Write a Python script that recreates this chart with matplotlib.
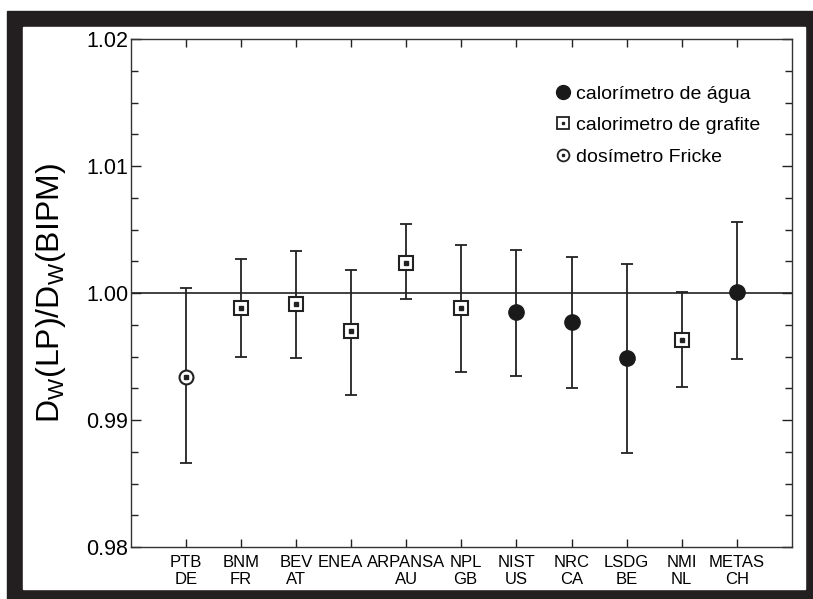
import matplotlib
matplotlib.use('Agg')
import matplotlib.pyplot as plt
from matplotlib.lines import Line2D
from matplotlib.patches import Rectangle
from matplotlib.ticker import MultipleLocator
from matplotlib.transforms import ScaledTranslation

plt.rcParams['font.family'] = ['Liberation Sans', 'DejaVu Sans']
plt.rcParams['mathtext.fontset'] = 'custom'
plt.rcParams['mathtext.rm'] = 'Liberation Sans'
plt.rcParams['mathtext.it'] = 'Liberation Sans'

# laboratories and results
labs = ['PTB\nDE', 'BNM\nFR', 'BEV\nAT', 'ENEA', 'ARPANSA\nAU', 'NPL\nGB',
        'NIST\nUS', 'NRC\nCA', 'LSDG\nBE', 'NMI\nNL', 'METAS\nCH']
ratio = [0.9934, 0.9988, 0.9991, 0.9970, 1.0024, 0.9988, 0.9985, 0.9977, 0.9949, 0.9963, 1.0001]
upper = [1.0004, 1.0027, 1.0033, 1.0018, 1.0054, 1.0038, 1.0034, 1.0028, 1.0023, 1.0001, 1.0056]
lower = [0.9866, 0.9950, 0.9949, 0.9920, 0.9995, 0.9938, 0.9935, 0.9925, 0.9874, 0.9926, 0.9948]
method = ['fricke', 'grafite', 'grafite', 'grafite', 'grafite', 'grafite',
          'agua', 'agua', 'agua', 'grafite', 'agua']

fig = plt.figure(figsize=(8.13, 5.99), dpi=100)

# dark frame round the picture
fig.patches.append(Rectangle((0.0086, 0.0), 0.9914, 0.9816, transform=fig.transFigure,
                             color='#231f20', zorder=-10))
fig.patches.append(Rectangle((0.0283, 0.0167), 0.962, 0.9382, transform=fig.transFigure,
                             color='white', zorder=-9))

ax = fig.add_axes([0.161, 0.0868, 0.813, 0.848])

x = list(range(1, len(labs) + 1))
yerr = [[r - lo for r, lo in zip(ratio, lower)], [up - r for r, up in zip(ratio, upper)]]

ax.axhline(1.0, color='#222222', lw=1.2, zorder=1)
ax.errorbar(x, ratio, yerr=yerr, fmt='none', ecolor='#222222', elinewidth=1.3,
            capsize=4, capthick=1.3, zorder=2)

for xi, yi, m in zip(x, ratio, method):
    if m == 'agua':
        ax.plot(xi, yi, 'o', ms=11, color='#1a1a1a', zorder=3)
    elif m == 'grafite':
        ax.plot(xi, yi, 's', ms=9.5, mfc='white', mec='#222222', mew=1.5, zorder=3)
        ax.plot(xi, yi, 's', ms=2.2, color='#222222', zorder=4)
    else:
        ax.plot(xi, yi, 'o', ms=10, mfc='white', mec='#222222', mew=1.5, zorder=3)
        ax.plot(xi, yi, 's', ms=2.2, color='#222222', zorder=4)

ax.set_xlim(0, len(labs) + 1)
ax.set_ylim(0.98, 1.02)
ax.set_xticks(x)
ax.set_xticklabels(labs, fontsize=12, linespacing=1.12)
ax.set_yticks([0.98, 0.99, 1.00, 1.01, 1.02])
ax.set_yticklabels(['0.98', '0.99', '1.00', '1.01', '1.02'], fontsize=15.5)
ax.yaxis.set_minor_locator(MultipleLocator(0.0025))
ax.tick_params(axis='both', which='both', direction='in', top=True, right=True,
               color='#222222', width=1.0)
ax.tick_params(axis='y', which='major', length=7, pad=2)
ax.tick_params(axis='y', which='minor', length=5)
ax.tick_params(axis='x', which='major', length=6, pad=6)
for s in ax.spines.values():
    s.set_linewidth(1.0)
    s.set_color('#333333')

# the crowded middle labels sit a little apart, as in the original
tl = ax.get_xticklabels()
tl[3].set_transform(tl[3].get_transform() + ScaledTranslation(-8 / 72, 0, fig.dpi_scale_trans))
tl[5].set_transform(tl[5].get_transform() + ScaledTranslation(3 / 72, 0, fig.dpi_scale_trans))

ax.set_ylabel(r'D$_{\mathrm{W}}$(LP)/D$_{\mathrm{W}}$(BIPM)', fontsize=23, labelpad=13)

h_agua = Line2D([], [], ls='none', marker='o', ms=10, color='#1a1a1a')
h_graf = (Line2D([], [], ls='none', marker='s', ms=8, mfc='white', mec='#222222', mew=1.3),
          Line2D([], [], ls='none', marker='s', ms=2, color='#222222'))
h_fric = (Line2D([], [], ls='none', marker='o', ms=8.5, mfc='white', mec='#222222', mew=1.3),
          Line2D([], [], ls='none', marker='s', ms=2, color='#222222'))
ax.legend([h_agua, h_graf, h_fric],
          ['calorímetro de água', 'calorimetro de grafite', 'dosímetro Fricke'],
          loc='upper right', bbox_to_anchor=(0.978, 0.944), frameon=False, fontsize=14,
          handlelength=0.7, handletextpad=0.3, labelspacing=0.72)

fig.savefig('out.png', dpi=100)
